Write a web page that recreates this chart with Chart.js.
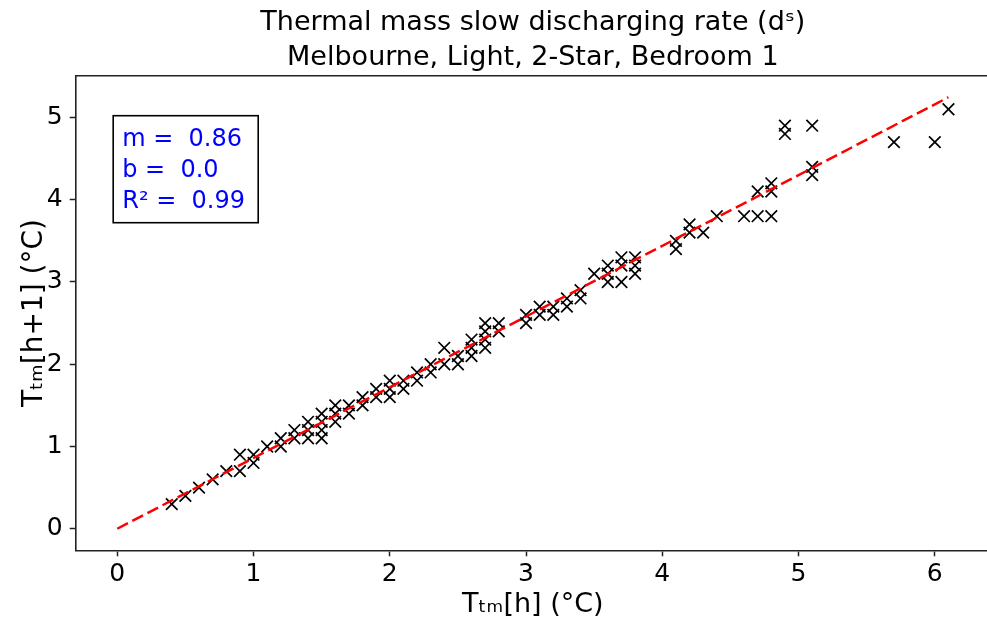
<!DOCTYPE html>
<html><head><meta charset="utf-8">
<script src="https://cdn.jsdelivr.net/npm/chart.js@4.4.1/dist/chart.umd.min.js"></script>
<style>html,body{margin:0;padding:0;overflow:hidden;background:#fff;width:987px;height:623px}canvas{display:block}</style>
</head><body>
<canvas id="c" width="1000" height="623"></canvas>
<script>
// Observed thermal-mass temperature at hour h (x) and h+1 (y)
const tmNow = [0.4,0.5,0.6,0.7,0.8,0.9,0.9,1.0,1.0,1.1,1.2,1.2,1.3,1.3,1.4,1.4,1.4,1.5,1.5,1.5,1.5,1.6,1.6,1.6,1.7,1.7,1.8,1.8,1.9,1.9,2.0,2.0,2.0,2.1,2.1,2.2,2.2,2.3,2.3,2.4,2.4,2.5,2.5,2.6,2.6,2.6,2.7,2.7,2.7,2.7,2.8,2.8,3.0,3.0,3.1,3.1,3.2,3.2,3.3,3.3,3.4,3.4,3.5,3.6,3.6,3.6,3.7,3.7,3.7,3.8,3.8,3.8,4.1,4.1,4.2,4.2,4.3,4.4,4.6,4.7,4.7,4.8,4.8,4.8,4.9,4.9,5.1,5.1,5.1,5.7,6.0,6.1];
const tmNext = [0.3,0.4,0.5,0.6,0.7,0.9,0.7,0.9,0.8,1.0,1.1,1.0,1.2,1.1,1.3,1.2,1.1,1.4,1.3,1.2,1.1,1.5,1.4,1.3,1.5,1.4,1.6,1.5,1.7,1.6,1.8,1.7,1.6,1.8,1.7,1.9,1.8,2.0,1.9,2.2,2.0,2.1,2.0,2.3,2.2,2.1,2.5,2.4,2.3,2.2,2.5,2.4,2.6,2.5,2.7,2.6,2.7,2.6,2.8,2.7,2.9,2.8,3.1,3.2,3.1,3.0,3.3,3.2,3.0,3.3,3.2,3.1,3.5,3.4,3.7,3.6,3.6,3.8,3.8,4.1,3.8,4.2,4.1,3.8,4.9,4.8,4.9,4.4,4.3,4.7,4.7,5.1];
const fitSlope = 0.86;
const fitIntercept = 0.0;
const rSquared = 0.99;
const xTickValues = [0,1,2,3,4,5,6];
const yTickValues = [0,1,2,3,4,5];
const titleLines = ['Thermal mass slow discharging rate (dˢ)', 'Melbourne, Light, 2-Star, Bedroom 1'];
const xAxisLabel = 'Tₜₘ[h] (°C)';
const yAxisLabel = 'Tₜₘ[h+1] (°C)';
const statLines = ['m =  ' + fitSlope.toFixed(2), 'b =  ' + fitIntercept.toFixed(1), 'R² =  ' + rSquared.toFixed(2)];

const scatterPts = tmNow.map((x, i) => ({x: x, y: tmNext[i]}));
const fitX = [0, Math.max(...tmNow)];
const fitPts = fitX.map(x => ({x: x, y: fitSlope * x + fitIntercept}));

const FONT = 'DejaVu Sans';
const framePlugin = {
  id: 'frame',
  afterDraw(chart) {
    const {ctx, chartArea: a} = chart;
    ctx.save();
    ctx.strokeStyle = '#222'; ctx.lineWidth = 1.6;
    ctx.beginPath();
    ctx.moveTo(a.left, a.top); ctx.lineTo(a.right, a.top); ctx.lineTo(a.right, a.bottom);
    ctx.stroke();
    const bx = a.left + 37.5, by = a.top + 40;
    ctx.strokeStyle = '#000'; ctx.lineWidth = 1.6;
    ctx.strokeRect(bx, by, 145, 107);
    ctx.fillStyle = '#0000ff';
    ctx.font = '24px "' + FONT + '"';
    ctx.textBaseline = 'alphabetic'; ctx.textAlign = 'left';
    statLines.forEach((t, i) => ctx.fillText(t, bx + 9, by + 30 + i * 31));
    ctx.restore();
  }
};

new Chart(document.getElementById('c'), {
  type: 'scatter',
  data: {datasets: [
    {type: 'scatter', data: scatterPts, pointStyle: 'crossRot', pointRadius: 8.2, pointHoverRadius: 8.2,
     borderColor: '#000', backgroundColor: '#000', pointBorderWidth: 1.7, order: 2},
    {type: 'line', data: fitPts, borderColor: '#ff0000', borderWidth: 2.5, borderDash: [12, 5],
     pointRadius: 0, fill: false, tension: 0, order: 1}
  ]},
  options: {
    responsive: false, animation: false, devicePixelRatio: 1,
    layout: {padding: {left: 0, right: 10, top: 0, bottom: 0}},
    plugins: {
      legend: {display: false}, tooltip: {enabled: false},
      title: {display: true, fullSize: false, text: titleLines, color: '#000',
        font: {family: FONT, size: 27, weight: 'normal', lineHeight: 1.3},
        padding: {top: 5, bottom: 0.5}}
    },
    scales: {
      x: {type: 'linear', min: -0.305, max: 6.405,
        afterBuildTicks: s => { s.ticks = xTickValues.map(v => ({value: v})); },
        afterFit: s => { s.height = 72.7; },
        grid: {drawOnChartArea: false, drawTicks: true, tickLength: 6, tickColor: '#222', tickWidth: 1.5},
        border: {display: true, color: '#222', width: 1.6},
        ticks: {color: '#000', font: {family: FONT, size: 25}, padding: 3, maxRotation: 0, autoSkip: false},
        title: {display: true, text: xAxisLabel, color: '#000', font: {family: FONT, size: 27}, padding: {top: 0, bottom: 2}}
      },
      y: {type: 'linear', min: -0.262, max: 5.508,
        afterBuildTicks: s => { s.ticks = yTickValues.map(v => ({value: v})); },
        afterFit: s => { s.width = 75.7; },
        grid: {drawOnChartArea: false, drawTicks: true, tickLength: 6, tickColor: '#222', tickWidth: 1.5},
        border: {display: true, color: '#222', width: 1.6},
        ticks: {color: '#000', font: {family: FONT, size: 25}, padding: 7, autoSkip: false},
        title: {display: true, text: yAxisLabel, color: '#000', font: {family: FONT, size: 28}, padding: {top: 18, bottom: 0}}
      }
    }
  },
  plugins: [framePlugin]
});
</script>
</body></html>
